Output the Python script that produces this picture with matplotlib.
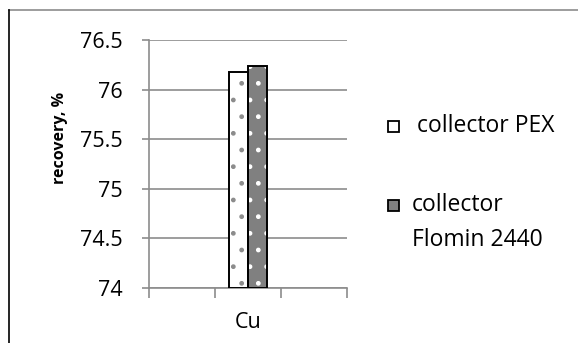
import matplotlib
matplotlib.use("Agg")
import matplotlib.pyplot as plt
from matplotlib.patches import Rectangle
from matplotlib.lines import Line2D
import numpy as np

categories = ["", "Cu", ""]
series_names = ["collector PEX", "collector\nFlomin 2440"]
pex_values = [np.nan, 76.18, np.nan]
flomin_values = [np.nan, 76.24, np.nan]
yticks = [74, 74.5, 75, 75.5, 76, 76.5]
ytick_labels = ["74", "74.5", "75", "75.5", "76", "76.5"]

plt.rcParams['font.family'] = ['Open Sans', 'DejaVu Sans']
W, H = 578, 343
fig = plt.figure(figsize=(W/100, H/100), dpi=100)
ax = fig.add_axes([149/W, 1-288/H, (347-149)/W, (288-40)/H])

x = np.arange(len(categories))
bw = 0.29
grid_c = '#8c8c8c'
series = [(pex_values, 'white', '#8c8c8c'), (flomin_values, '#808080', 'white')]
for i, (vals, fc, hc) in enumerate(series):
    pos = x + (i - 0.5) * bw
    ax.bar(pos, np.array(vals) - 74, bw, bottom=74, color=fc, edgecolor=hc, hatch='.', linewidth=0, zorder=3)
    ax.bar(pos, np.array(vals) - 74, bw, bottom=74, facecolor='none', edgecolor='black', linewidth=1.4, zorder=4)

ax.set_xlim(-0.5, 2.5)
ax.set_ylim(74, 76.5)
ax.set_yticks(yticks)
ax.set_yticklabels(ytick_labels)
ax.set_xticks([0, 1, 2])
ax.set_xticklabels(["", "", ""])
ax.set_xticks([-0.5, 0.5, 1.5, 2.5], minor=True)
ax.tick_params(axis='x', which='major', length=0)
ax.tick_params(axis='x', which='minor', length=7, width=1.2, color=grid_c)
ax.tick_params(axis='y', length=5, width=1.2, color=grid_c, labelsize=15.5, pad=14)
ax.grid(axis='y', color=grid_c, linewidth=1.2, zorder=0)
for s in ['top', 'right']:
    ax.spines[s].set_visible(False)
for s in ['left', 'bottom']:
    ax.spines[s].set_color(grid_c)
    ax.spines[s].set_linewidth(1.2)
ax.text(1, 73.65, categories[1], ha='center', va='center', fontsize=15.5)

fig.text(60/W, 1-138/H, "recovery, %", rotation=90, ha='center', va='center', fontsize=11.5, fontweight='bold')

# legend (drawn manually to match layout)
leg_items = [(121, 417, [126]), (200, 412, [205, 240])]
for (vals, fc, hc), name, (ry, tx, tys) in zip(series, series_names, leg_items):
    fig.add_artist(Rectangle((388/W, 1-(ry+11)/H), 11/W, 11/H, facecolor=fc, edgecolor='black',
                             linewidth=1.3, transform=fig.transFigure))
    for line, ty in zip(name.split("\n"), tys):
        fig.text(tx/W, 1-ty/H, line, ha='left', va='center', fontsize=16.5)

# outer frame
fig.add_artist(Line2D([9/W, 1], [1-10/H, 1-10/H], color='#8c8c8c', lw=1.2, transform=fig.transFigure))
fig.add_artist(Line2D([9/W, 9/W], [0, 1-10/H], color='black', lw=1.2, transform=fig.transFigure))

fig.savefig("out.png", dpi=100)
